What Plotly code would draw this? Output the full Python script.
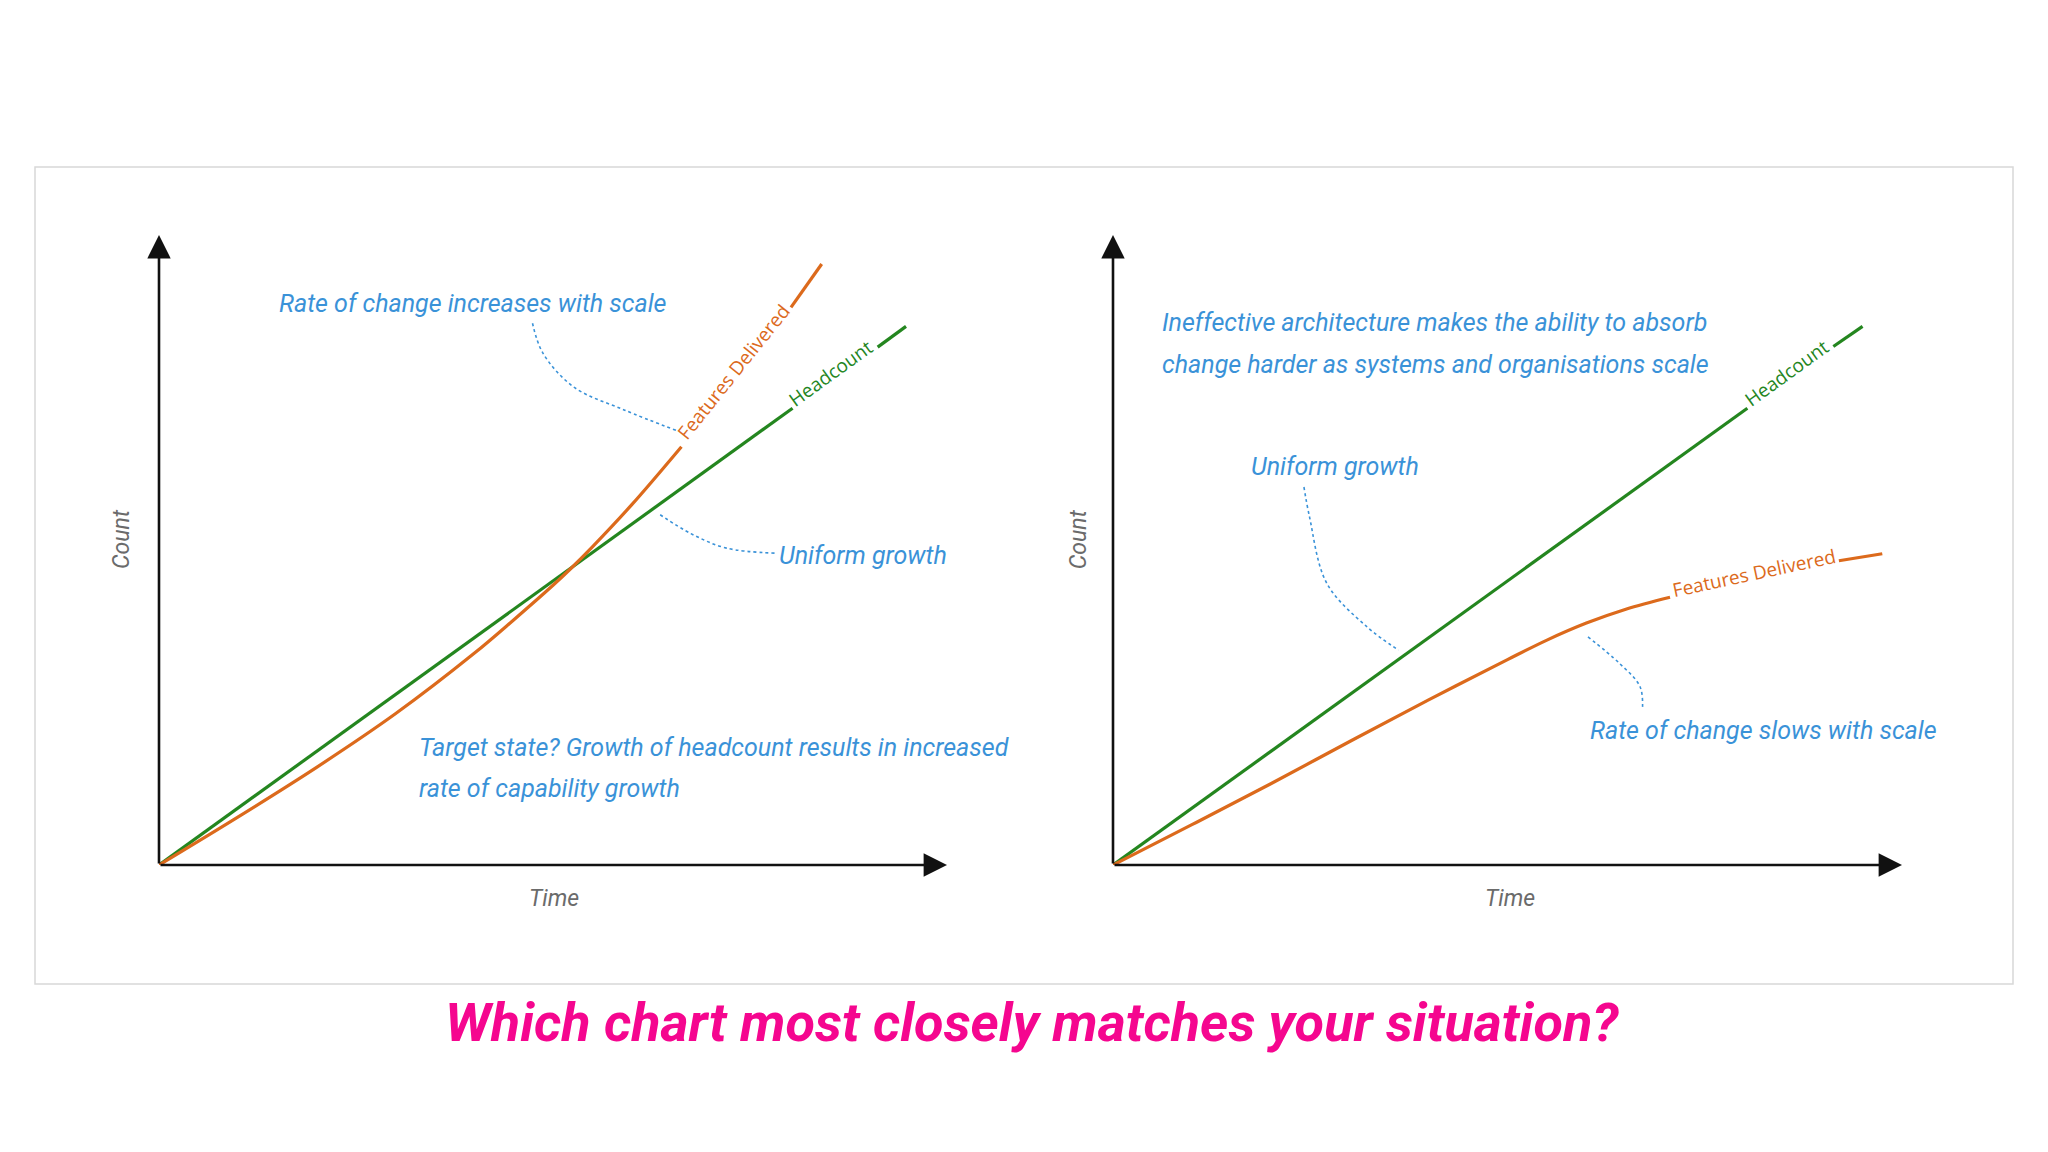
import plotly.graph_objects as go

# ---------------- data (0-100 scales) ----------------
# Left chart: "target state"
left_headcount_x = [0, 80.4, None, 91.2, 94.8]
left_headcount_y = [0, 72.5, None, 82.2, 85.5]
left_features_x = [0, 10, 20, 30, 40, 45, 50, 52.3, 55, 60, 66.3, None, 80.2, 84.1]
left_features_y = [0, 7.6, 15.5, 24.0, 33.6, 38.9, 44.4, 47.1, 50.5, 57.2, 66.4, None, 88.5, 95.4]

# Right chart: "ineffective architecture"
right_headcount_x = [0, 80.4, None, 91.3, 95.0]
right_headcount_y = [0, 72.5, None, 82.3, 85.5]
right_features_x = [0, 10, 20, 30, 40, 50, 55, 60, 65, 70.6, None, 92.0, 97.5]
right_features_y = [0, 6.4, 12.9, 19.6, 26.2, 32.6, 35.7, 38.4, 40.6, 42.5, None, 48.3, 49.4]

# dotted leader lines
left_leader_rate_x = [47.4, 48.7, 52.6, 59.1, 65.6]
left_leader_rate_y = [86.0, 81.3, 75.9, 72.2, 69.0]
left_leader_uniform_x = [63.6, 67.5, 72.0, 78.2]
left_leader_uniform_y = [55.6, 52.6, 50.3, 49.5]
right_leader_uniform_x = [24.2, 24.9, 27.1, 32.2, 36.2]
right_leader_uniform_y = [60.0, 55.3, 44.7, 37.8, 34.1]
right_leader_rate_x = [60.2, 64.2, 66.8, 67.1]
right_leader_rate_y = [36.2, 32.0, 28.3, 24.6]

series_names = ["Headcount", "Features Delivered"]

# ---------------- styles ----------------
W, H = 2048, 1152
GREEN = "#24861f"
ORANGE = "#dc6a1c"
BLUE = "#3a92d8"
GRAY = "#6b6b6b"
PINK = "#f5068f"
HAND = "Roboto, Open Sans, sans-serif"
LABEL = "Open Sans, Noto Sans, sans-serif"


def px(x, y):
    return x / W, 1 - y / H


fig = go.Figure()

panels = [
    ("x", "y", left_headcount_x, left_headcount_y, left_features_x, left_features_y,
     [(left_leader_rate_x, left_leader_rate_y), (left_leader_uniform_x, left_leader_uniform_y)]),
    ("x2", "y2", right_headcount_x, right_headcount_y, right_features_x, right_features_y,
     [(right_leader_uniform_x, right_leader_uniform_y), (right_leader_rate_x, right_leader_rate_y)]),
]

for xa, ya, hx, hy, fx, fy, leaders in panels:
    for lx, ly in leaders:
        fig.add_trace(go.Scatter(x=lx, y=ly, xaxis=xa, yaxis=ya, mode="lines",
                                 line=dict(color=BLUE, width=1.6, dash="dot", shape="spline"),
                                 showlegend=False, hoverinfo="skip"))
    fig.add_trace(go.Scatter(x=hx, y=hy, xaxis=xa, yaxis=ya, mode="lines", name=series_names[0],
                             line=dict(color=GREEN, width=3.2), showlegend=False,
                             connectgaps=False))
    fig.add_trace(go.Scatter(x=fx, y=fy, xaxis=xa, yaxis=ya, mode="lines", name=series_names[1],
                             line=dict(color=ORANGE, width=3.2, shape="spline", smoothing=1.0),
                             showlegend=False, connectgaps=False))

ann = []

# axis arrows
for xa, ya in [("x", "y"), ("x2", "y2")]:
    for (tx, ty) in [(100, 0), (0, 100)]:
        ann.append(dict(x=tx, y=ty, ax=0, ay=0, xref=xa, yref=ya, axref=xa, ayref=ya,
                        text="", showarrow=True, arrowhead=2, arrowsize=1.8,
                        arrowwidth=2.6, arrowcolor="#111111"))

# series labels along lines
ann += [
    dict(x=73.3, y=77.7, xref="x", yref="y", text="Features Delivered", textangle=-51.3,
         showarrow=False, font=dict(family=LABEL, size=19, color=ORANGE), yshift=3, xshift=-3),
    dict(x=85.8, y=77.1, xref="x", yref="y", text="Headcount", textangle=-35.8,
         showarrow=False, font=dict(family=LABEL, size=19, color=GREEN), yshift=6, xshift=-4),
    dict(x=81.3, y=45.4, xref="x2", yref="y2", text="Features Delivered", textangle=-12,
         showarrow=False, font=dict(family=LABEL, size=19, color=ORANGE), yshift=6),
    dict(x=85.9, y=77.1, xref="x2", yref="y2", text="Headcount", textangle=-35.8,
         showarrow=False, font=dict(family=LABEL, size=19, color=GREEN), yshift=6, xshift=-4),
]

hand = dict(family=HAND, size=25, color=BLUE)
notes = [
    ("x", "y", 15.0, 89.2, "<i>Rate of change increases with scale</i>"),
    ("x", "y", 78.4, 49.2, "<i>Uniform growth</i>"),
    ("x", "y", 32.7, 18.6, "<i>Target state? Growth of headcount results in increased</i>"),
    ("x", "y", 32.7, 12.1, "<i>rate of capability growth</i>"),
    ("x2", "y2", 5.9, 86.1, "<i>Ineffective architecture makes the ability to absorb</i>"),
    ("x2", "y2", 5.9, 79.5, "<i>change harder as systems and organisations scale</i>"),
    ("x2", "y2", 17.2, 63.3, "<i>Uniform growth</i>"),
    ("x2", "y2", 60.2, 21.3, "<i>Rate of change slows with scale</i>"),
]
for xa, ya, x, y, t in notes:
    ann.append(dict(x=x, y=y, xref=xa, yref=ya, text=t, showarrow=False,
                    xanchor="left", yanchor="middle", font=hand))

# axis titles
for cx, ty_px, tx_px in [(121.5, 539.5, 553.8), (1078.8, 539.5, 1509.8)]:
    xp, yp = px(cx, ty_px)
    ann.append(dict(x=xp, y=yp, xref="paper", yref="paper", text="<i>Count</i>", textangle=-90,
                    xanchor="center", yanchor="middle",
                    showarrow=False, font=dict(family=HAND, size=23, color=GRAY)))
    xp, yp = px(tx_px, 898.5)
    ann.append(dict(x=xp, y=yp, xref="paper", yref="paper", text="<i>Time</i>",
                    xanchor="center", yanchor="middle",
                    showarrow=False, font=dict(family=HAND, size=23, color=GRAY)))

# bottom title
xp, yp = px(1032, 1022)
ann.append(dict(x=xp, y=yp, xref="paper", yref="paper", xanchor="center", yanchor="middle",
                text="<b><i>Which chart most closely matches your situation?</i></b>",
                showarrow=False, font=dict(family=HAND, size=54, color=PINK)))

x0, y1 = px(35, 167)
x1, y0 = px(2013, 984)
shapes = [dict(type="rect", xref="paper", yref="paper", x0=x0, x1=x1, y0=y0, y1=y1,
               line=dict(color="#d8d8d8", width=1.5), fillcolor="rgba(0,0,0,0)", layer="below")]

ax_common = dict(visible=False, range=[0, 100], fixedrange=True)
lx0, ly0 = px(159, 865)
lx1, ly1 = px(947, 235)
rx0, _ = px(1113, 865)
rx1, _ = px(1902, 235)

fig.update_layout(
    width=W, height=H,
    margin=dict(l=0, r=0, t=0, b=0),
    paper_bgcolor="white", plot_bgcolor="rgba(0,0,0,0)",
    xaxis=dict(domain=[lx0, lx1], anchor="y", **ax_common),
    yaxis=dict(domain=[ly0, ly1], anchor="x", **ax_common),
    xaxis2=dict(domain=[rx0, rx1], anchor="y2", **ax_common),
    yaxis2=dict(domain=[ly0, ly1], anchor="x2", **ax_common),
    annotations=ann, shapes=shapes, showlegend=False,
)

fig.write_html("out.html", config={"displayModeBar": False},
               post_script="document.body.style.margin='0';")
